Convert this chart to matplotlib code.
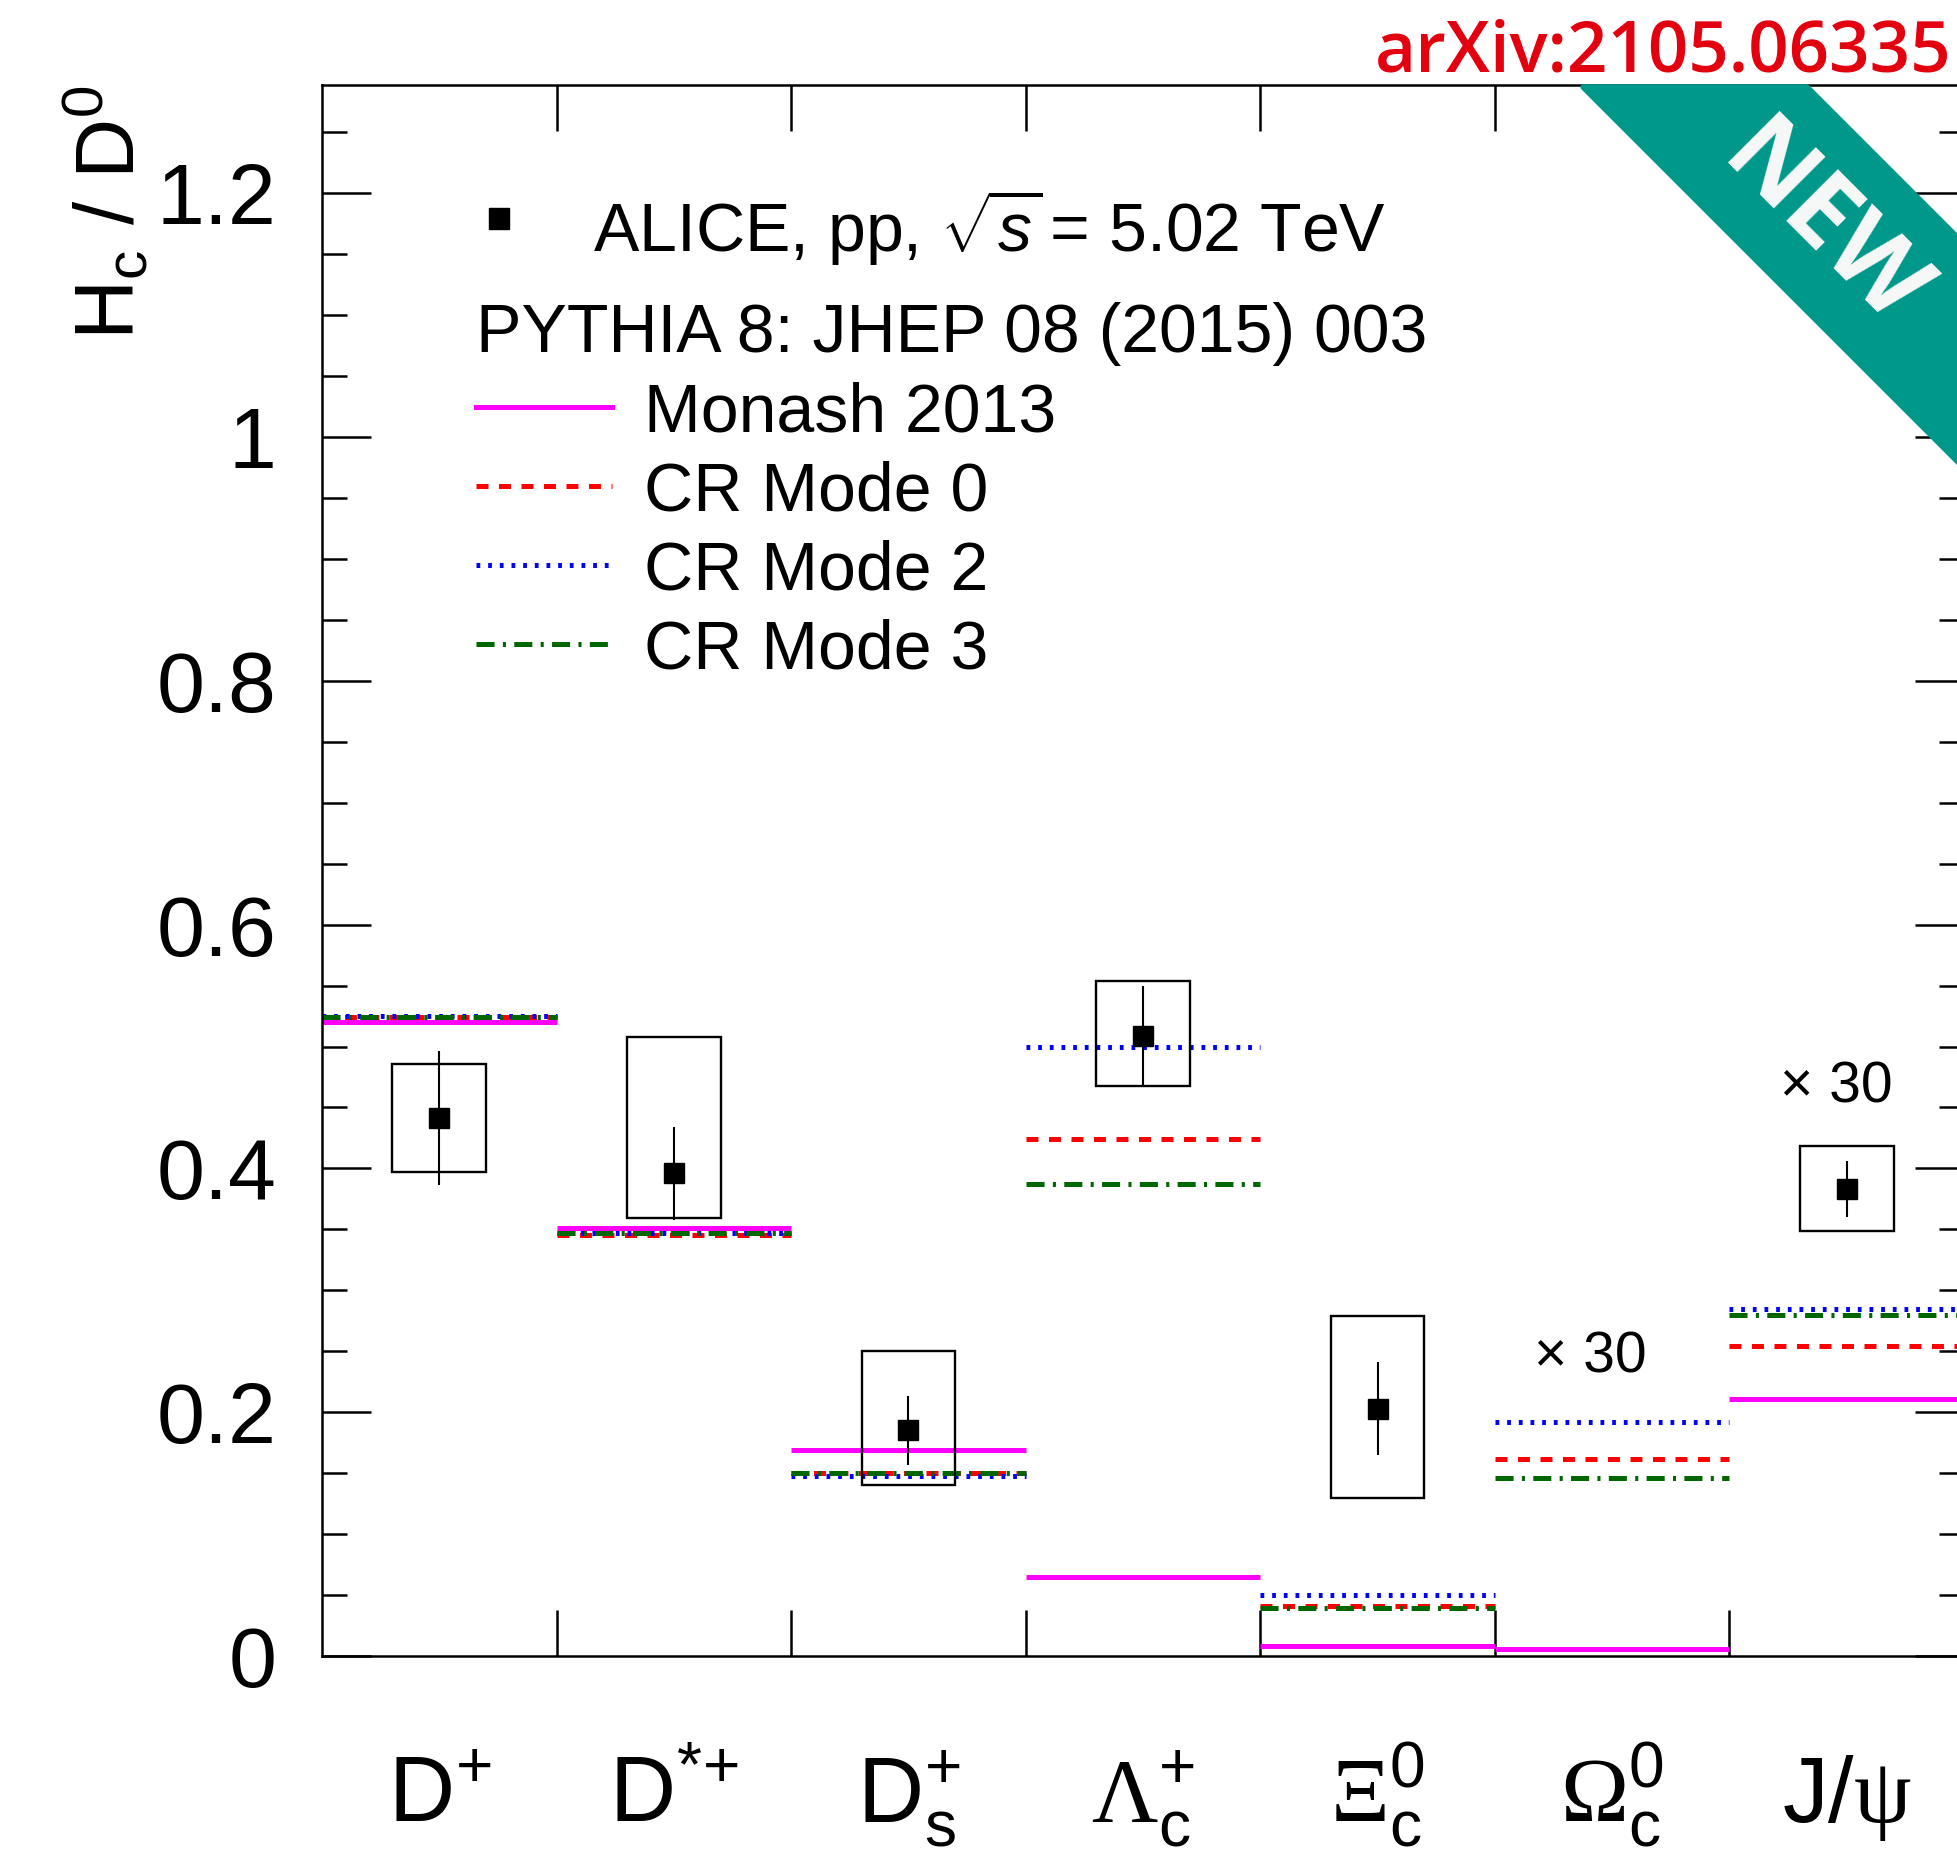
import matplotlib
matplotlib.use("Agg")
import matplotlib.pyplot as plt
import numpy as np
from matplotlib.lines import Line2D
from matplotlib.markers import MarkerStyle
from matplotlib.patches import Polygon
from matplotlib.transforms import Affine2D
from matplotlib.ticker import MultipleLocator, FormatStrFormatter

plt.rcParams.update({
    "font.family": ["Liberation Sans", "DejaVu Sans"],
    "mathtext.fontset": "custom",
    "mathtext.rm": "Liberation Sans",
    "mathtext.it": "Liberation Sans:italic",
    "mathtext.bf": "Liberation Sans:bold",
    "mathtext.sf": "Liberation Serif",
    "lines.scale_dashes": False,
    "axes.linewidth": 1.8,
})

# charm-hadron species, one bin each
SPECIES = [
    r"$\mathrm{D}^{+}$",
    r"$\mathrm{D}^{*\!+}$",
    r"$\mathrm{D}_{\mathrm{s}}^{+}$",
    r"$\mathsf{\Lambda}_{\mathrm{c}}^{+}$",
    r"$\mathsf{\Xi}_{\mathrm{c}}^{0}$",
    r"$\mathsf{\Omega}_{\mathrm{c}}^{0}$",
    r"$\mathrm{J}/\mathsf{\psi}$",
]

# measured H_c / D0 ratios (Omega_c0 not measured), J/psi already x30
RATIO = [0.441, 0.396, 0.185, 0.509, 0.203, np.nan, 0.383]
STAT = [0.055, 0.038, 0.028, 0.041, 0.038, np.nan, 0.023]
SYST_LO = [0.044, 0.037, 0.045, 0.041, 0.073, np.nan, 0.034]
SYST_HI = [0.045, 0.112, 0.065, 0.045, 0.076, np.nan, 0.035]

# PYTHIA 8 predictions (Omega_c0 and J/psi bins x30)
MONASH = [0.520, 0.351, 0.169, 0.065, 0.008, 0.006, 0.211]
CR_MODE0 = [0.524, 0.345, 0.150, 0.424, 0.041, 0.162, 0.254]
CR_MODE2 = [0.525, 0.347, 0.148, 0.500, 0.050, 0.192, 0.285]
CR_MODE3 = [0.524, 0.347, 0.150, 0.387, 0.039, 0.146, 0.280]

SCALE_NOTE = "\u00d7 30"

MODEL_STYLE = [
    (MONASH, "Monash 2013", "#ff00ff", "-"),
    (CR_MODE0, "CR Mode 0", "#ff0000", (0, (8.6, 7.6))),
    (CR_MODE2, "CR Mode 2", "#0000ff", (0, (2.7, 5.7))),
    (CR_MODE3, "CR Mode 3", "#006600", (0, (13.0, 6.0, 2.2, 6.0))),
]
LW = 3.6

W, H = 1957, 1854
fig = plt.figure(figsize=(W / 100, H / 100), dpi=100)
ax = fig.add_axes([322 / W, 1 - 1656 / H, 1642 / W, 1571 / H])

edges = np.arange(len(SPECIES) + 1)
centres = edges[:-1] + 0.5

for vals, label, color, ls in MODEL_STYLE:
    ax.hlines(vals, edges[:-1], edges[1:], colors=color, linestyles=ls,
              linewidth=LW, zorder=2)

ratio = np.array(RATIO)
ok = ~np.isnan(ratio)
lo = np.array(SYST_LO)[ok]
hi = np.array(SYST_HI)[ok]
ax.bar(centres[ok], lo + hi, bottom=ratio[ok] - lo, width=0.4, fill=False,
       edgecolor="black", linewidth=1.7, zorder=3)
ax.errorbar(centres[ok], ratio[ok], yerr=np.array(STAT)[ok], fmt="s",
            color="black", markersize=15, elinewidth=1.5, capsize=0, zorder=4)

# x30 notes for the scaled bins
ax.text(5.405, 0.245, SCALE_NOTE, ha="center", va="center", fontsize=41)
ax.text(6.454, 0.466, SCALE_NOTE, ha="center", va="center", fontsize=41)

ax.set_xlim(0, len(SPECIES))
ax.set_ylim(0, 1.2888)

ax.set_xticks(edges[1:-1])
ax.set_xticks(centres, SPECIES, minor=True)
ax.tick_params(axis="x", which="major", direction="in", length=33, width=1.8,
               top=True, labelbottom=False)
ax.tick_params(axis="x", which="minor", length=0, pad=119.5, labelsize=66)
for lab in ax.get_xticklabels(minor=True):
    lab.set_verticalalignment("baseline")

ax.yaxis.set_major_locator(MultipleLocator(0.2))
ax.yaxis.set_minor_locator(MultipleLocator(0.05))
ax.yaxis.set_major_formatter(FormatStrFormatter("%g"))
ax.tick_params(axis="y", which="major", direction="in", length=35, width=1.8,
               right=True, pad=33, labelsize=62)
ax.tick_params(axis="y", which="minor", direction="in", length=18, width=1.8,
               right=True)

ax.set_ylabel(r"$\mathrm{H_{c}}$ / $\mathrm{D^{0}}$", fontsize=60, loc="top")
ax.yaxis.set_label_coords(-0.104, 1.0)

# legends
raised_square = MarkerStyle("s", transform=Affine2D().translate(0, 0.45))
alice = ax.legend(
    [Line2D([], [], ls="none", marker=raised_square, color="black", markersize=15)],
    [r"ALICE, pp, $\sqrt{s}\,$= 5.02 TeV"],
    loc="upper left", bbox_to_anchor=(0.0974, 0.9345), frameon=False,
    borderpad=0, borderaxespad=0, handlelength=0.5, handletextpad=1.13,
    fontsize=49,
)
ax.add_artist(alice)

handles = [Line2D([], [], color=c, ls=ls, lw=LW) for _, _, c, ls in MODEL_STYLE]
labels = [lab for _, lab, _, _ in MODEL_STYLE]
ax.legend(
    handles, labels, title="PYTHIA 8: JHEP 08 (2015) 003", title_fontsize=49,
    alignment="left", loc="upper left", bbox_to_anchor=(0.0940, 0.8618),
    frameon=False, borderpad=0, borderaxespad=0, handlelength=2.0,
    handletextpad=0.47, labelspacing=0.22, fontsize=49,
)

# corner banner
band = [(1583, 87), (1807, 87), (2250, 530), (2250, 754)]
fig.patches.append(Polygon([(x / W, 1 - y / H) for x, y in band], closed=True,
                           transform=fig.transFigure, facecolor="#00988a",
                           edgecolor="#00988a", linewidth=4, joinstyle="round",
                           zorder=5))
fig.text(1822 / W, 1 - 228 / H, "NEW", rotation=-45, rotation_mode="anchor",
         ha="center", va="center", fontsize=74, fontweight="bold",
         color="#f8f8f8", family="Open Sans", zorder=6)

fig.text(1951 / W, 1 - 71 / H, "arXiv:2105.06335", ha="right", va="baseline",
         color="#e3000f", fontsize=51, fontweight="semibold", family="Open Sans")

fig.savefig("out.png", dpi=100)
